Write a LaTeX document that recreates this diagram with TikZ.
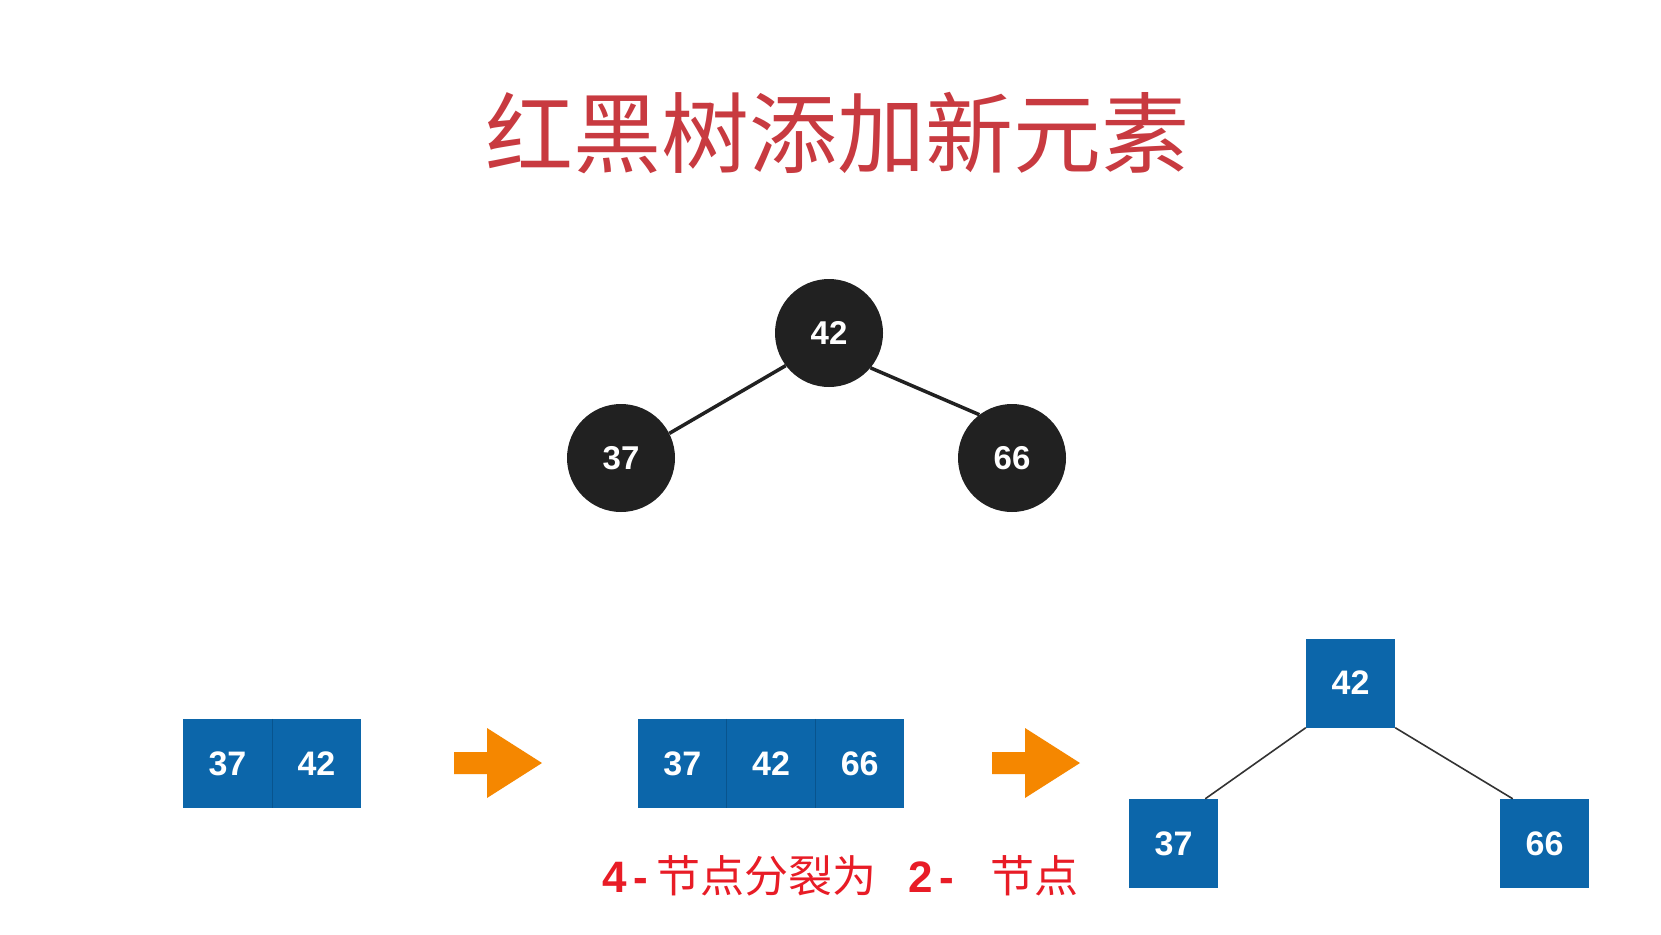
\documentclass[tikz,border=0pt]{standalone}
\usepackage{fontspec}
\setmainfont{Liberation Sans}
\newfontfamily\cjk{Noto Sans CJK SC}
\usetikzlibrary{calc}
\definecolor{titlered}{RGB}{200,58,64}
\definecolor{nodeblack}{RGB}{33,33,33}
\definecolor{bblue}{RGB}{12,102,170}
\definecolor{bdiv}{RGB}{8,84,142}
\definecolor{arroworange}{RGB}{245,135,0}
\definecolor{notered}{RGB}{232,28,38}
\tikzset{
  rbnode/.style={circle, fill=nodeblack, minimum size=108pt, inner sep=0pt, text=white,
    font=\fontsize{33}{33}\selectfont\bfseries},
  cell/.style={rectangle, fill=bblue, minimum width=89pt, minimum height=89pt, inner sep=0pt,
    text=white, font=\fontsize{34}{34}\selectfont\bfseries},
  rbedge/.style={draw=nodeblack, line width=3.5pt},
  btedge/.style={draw=black!80, line width=1.6pt},
  divider/.style={draw=bdiv, line width=1pt},
  bigarrow/.style={fill=arroworange}
}
\begin{document}
\begin{tikzpicture}[x=1pt,y=-1pt]
\useasboundingbox[fill=white] (0,0) rectangle (1661,934);

% title
\node[font=\cjk\fontsize{88}{88}\selectfont, text=titlered] (title) at (837,133) {红黑树添加新元素};

% red-black tree
\node[rbnode] (r42) at (829,333) {42};
\node[rbnode] (r37) at (621,458) {37};
\node[rbnode] (r66) at (1012,458) {66};
\draw[rbedge] (r42.217) -- (r37.27);
\draw[rbedge] (r42.-40) -- (r66.127);

% 3-node
\node[cell] (a37) at (227.5,763.5) {37};
\node[cell] (a42) at (316.5,763.5) {42};
\draw[divider] (a37.north east) -- (a37.south east);

% arrow 1
\fill[bigarrow] (454,752) -- (487,752) -- (487,728) -- (542,763) -- (487,798) -- (487,774) -- (454,774) -- cycle;

% 4-node
\node[cell, minimum width=88.7pt] (b37) at (682.3,763.5) {37};
\node[cell, minimum width=88.7pt] (b42) at (771,763.5) {42};
\node[cell, minimum width=88.7pt] (b66) at (859.7,763.5) {66};
\draw[divider] (b37.north east) -- (b37.south east);
\draw[divider] (b42.north east) -- (b42.south east);

% arrow 2
\fill[bigarrow] (992,752) -- (1025,752) -- (1025,728) -- (1080,763) -- (1025,798) -- (1025,774) -- (992,774) -- cycle;

% split tree
\node[cell] (c42) at (1350.5,683) {42};
\node[cell] (c37) at (1173.5,843.5) {37};
\node[cell] (c66) at (1544.5,843.5) {66};
\draw[btedge] (c42.south west) -- ($(c37.north)!0.71!(c37.north east)$);
\draw[btedge] (c42.south east) -- ($(c66.north)!0.71!(c66.north west)$);

% note
\node[anchor=west, inner sep=0pt, text=notered, font=\cjk\fontsize{44}{44}\selectfont] (note) at (602,876)
  {{\rmfamily\bfseries 4\hspace{7pt}-}\hspace{8pt}节点分裂为\hspace{32pt}{\rmfamily\bfseries 2\hspace{7pt}-}\hspace{36pt}节点};
\end{tikzpicture}
\end{document}
